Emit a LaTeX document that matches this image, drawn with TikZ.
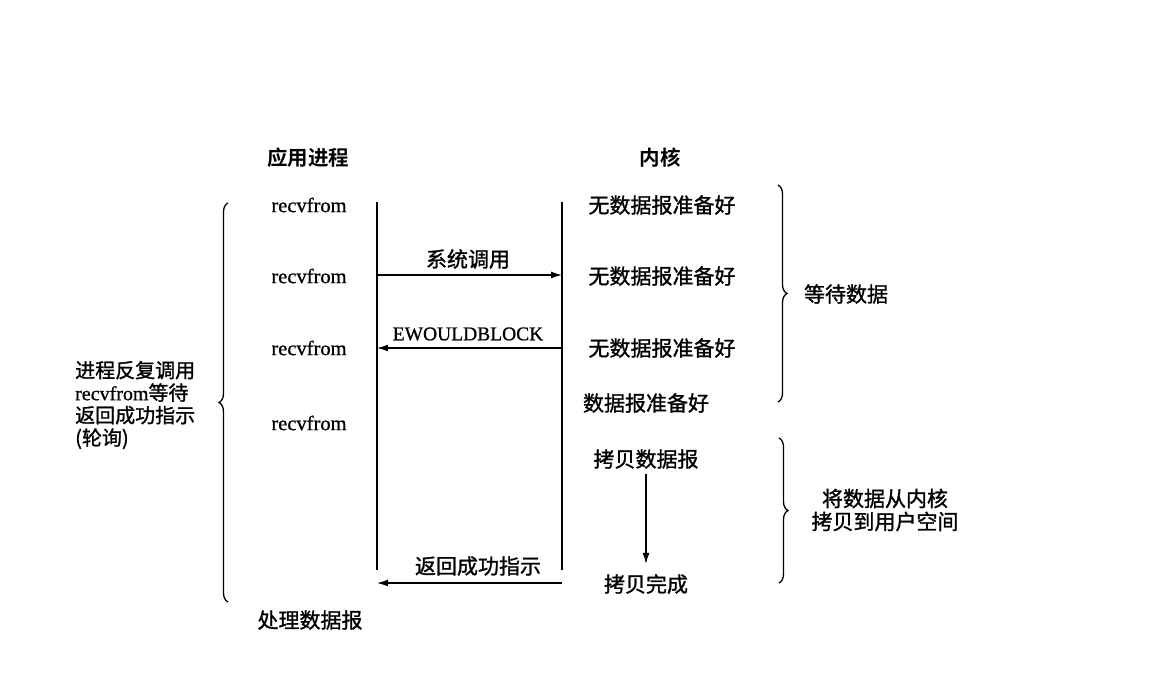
\documentclass[tikz,border=0pt]{standalone}
\usepackage{fontspec}
\setmainfont{Liberation Serif}[FakeBold=0.8]
\newfontfamily\cjk{Noto Sans CJK SC}[FakeBold=1.2]
\newfontfamily\cjkb{Noto Sans CJK SC Bold}
\usetikzlibrary{decorations.pathreplacing,arrows.meta}
\begin{document}
\begin{tikzpicture}[x=1pt,y=-1pt,
  lbl/.style={font=\fontsize{20.5}{22}\selectfont, inner sep=0pt},
  zh/.style={font=\cjk\fontsize{21}{22.5}\selectfont, inner sep=0pt},
  head/.style={font=\cjkb\fontsize{20.5}{24}\selectfont, inner sep=0pt},
  vline/.style={line width=1.3pt},
  arr/.style={line width=1.3pt,-{Latex[length=11pt,width=7pt]}},
  brace/.style={decorate,decoration={brace,amplitude=9pt},line width=1.3pt}]
\useasboundingbox[fill=white] (0,0) rectangle (1174,678);

% headers
\node[head] (app) at (308,158) {应用进程};
\node[head] (kern) at (660,158) {内核};

% application side
\node[lbl] (r1) at (309,205) {recvfrom};
\node[lbl] (r2) at (309,276) {recvfrom};
\node[lbl] (r3) at (309,348) {recvfrom};
\node[lbl] (r4) at (309,423) {recvfrom};
\node[zh] (proc) at (310,620) {处理数据报};

% timelines
\coordinate (lt) at (377,202);
\coordinate (lb) at (377,570);
\coordinate (rt) at (562,202);
\coordinate (rb) at (562,570);
\draw[vline] (lt) -- (lb);
\draw[vline] (rt) -- (rb);

% system call
\coordinate (s1) at (377,275);
\coordinate (e1) at (562,275);
\draw[arr] (s1) -- (e1);
\node[zh] (sys) at (468,259) {系统调用};

% EWOULDBLOCK
\coordinate (s2) at (562,348);
\coordinate (e2) at (377,348);
\draw[arr] (s2) -- (e2);
\node[lbl, font=\fontsize{19.5}{22}\selectfont] (ewb) at (468,334) {EWOULDBLOCK};

% return success
\coordinate (s3) at (562,583);
\coordinate (e3) at (377,583);
\draw[arr] (s3) -- (e3);
\node[zh] (ret) at (478,566) {返回成功指示};

% kernel side
\node[zh] (k1) at (662,205) {无数据报准备好};
\node[zh] (k2) at (662,276) {无数据报准备好};
\node[zh] (k3) at (662,348) {无数据报准备好};
\node[zh] (k4) at (646,403) {数据报准备好};
\node[zh] (k5) at (646,459) {拷贝数据报};
\node[zh] (k6) at (646,584) {拷贝完成};
\draw[arr, shorten <=5pt, shorten >=10pt] (k5) -- (k6);

% braces
\coordinate (b1t) at (778,185);
\coordinate (b1b) at (778,402);
\draw[brace] (b1t) -- (b1b);
\node[zh] (wait) at (846,294) {等待数据};

\coordinate (b2t) at (779,438);
\coordinate (b2b) at (779,583);
\draw[brace] (b2t) -- (b2b);
\node[zh, align=center, font=\cjk\fontsize{21}{23}\selectfont] (copy) at (885,510) {将数据从内核\\拷贝到用户空间};

\coordinate (b3b) at (228,602);
\coordinate (b3t) at (228,203);
\draw[brace] (b3b) -- (b3t);
\node[anchor=west, align=left, inner sep=0pt, font=\cjk\fontsize{20}{22.5}\selectfont] (poll) at (75,405)
  {进程反复调用\\{\rmfamily recvfrom}等待\\返回成功指示\\(轮询)};
\end{tikzpicture}
\end{document}
